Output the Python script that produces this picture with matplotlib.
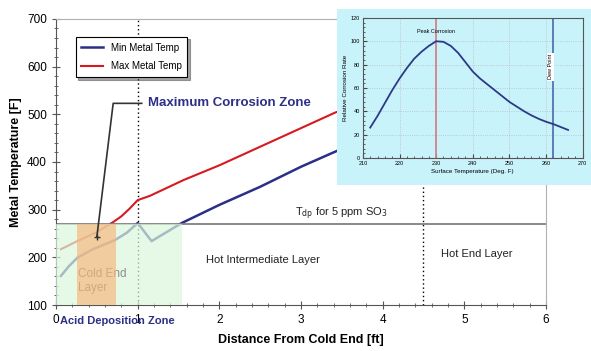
import matplotlib
matplotlib.use('Agg')
from matplotlib import pyplot as plt
from matplotlib.ticker import MultipleLocator
from matplotlib.patches import Rectangle

plt.rcParams['font.family'] = ['Liberation Sans', 'DejaVu Sans']

# main chart data
min_x = [0.06, 0.15, 0.26, 0.45, 0.72, 0.87, 1.0, 1.17, 1.54, 2.0, 2.5, 3.0, 3.41, 3.8]
min_y = [161, 180, 199, 217, 236, 252, 272, 234, 272, 310, 348, 390, 421, 450]
max_x = [0.06, 0.26, 0.5, 0.7, 0.8, 0.9, 1.0, 1.15, 1.56, 2.0, 2.5, 3.0, 3.41, 3.8]
max_y = [217, 234, 253, 274, 286, 302, 320, 329, 362, 393, 432, 471, 503, 530]
tdp = 270
zone_lines = [1.0, 4.5]

# inset data
surf_temp = [212, 214, 216, 218, 220, 222, 224, 226, 228, 230, 232, 234, 236, 238, 240,
             242, 244, 246, 248, 250, 252, 254, 256, 258, 260, 262, 264, 266]
corr_rate = [26, 36, 47, 58, 68, 77, 85, 91, 96, 100, 99.5, 96, 90, 82, 74,
             68, 63, 58, 53, 48, 44, 40, 36.5, 33.5, 31, 29, 26.5, 24]
peak_t = 230
dew_t = 262

fig = plt.figure(figsize=(5.91, 3.51), dpi=100)
ax = fig.add_axes([0.0948, 0.131, 0.829, 0.815])

blue = '#2b2f86'
red = '#d71920'
ax.plot(min_x, min_y, color=blue, lw=1.8, label='Min Metal Temp', zorder=2)
ax.plot(max_x, max_y, color=red, lw=1.5, label='Max Metal Temp', zorder=2)
ax.axhline(tdp, color='#808080', lw=1.3, zorder=2)
for zx in zone_lines:
    ax.axvline(zx, color='black', lw=1.0, ls=(0, (1, 2)), zorder=1)

# shaded zones, drawn over the lines
ax.add_patch(Rectangle((0, 100), 1.54, tdp - 100, facecolor='#dcf7dc', alpha=0.7, lw=0, zorder=3))
ax.add_patch(Rectangle((0.26, 100), 0.47, tdp - 100, facecolor='#f6b57a', alpha=0.65, lw=0, zorder=4))

ax.text(0.27, 150, 'Cold End\nLayer', fontsize=8.5, color='#8c8c8c', va='center', linespacing=1.25, zorder=3.5)
ax.text(1.84, 194, 'Hot Intermediate Layer', fontsize=8, color='#222222', va='center')
ax.text(4.72, 206, 'Hot End Layer', fontsize=8, color='#222222', va='center')
ax.text(2.93, 292, r'T$_{\rm dp}$ for 5 ppm SO$_3$', fontsize=8, color='#222222', va='center')
ax.text(0.05, 67, 'Acid Deposition Zone', fontsize=8, color=blue, fontweight='bold', va='center',
        clip_on=False)
ax.text(1.13, 523, 'Maximum Corrosion Zone', fontsize=9.5, color=blue, fontweight='bold', va='center')

# annotation pointer
ax.plot([0.5, 0.7, 1.05], [243, 523, 523], color='#333333', lw=1.2, zorder=5)
ax.plot([0.5], [243], marker='+', color='#333333', ms=4, zorder=5)

ax.set_xlim(0, 6)
ax.set_ylim(100, 700)
ax.xaxis.set_major_locator(MultipleLocator(1))
ax.xaxis.set_minor_locator(MultipleLocator(0.2))
ax.yaxis.set_major_locator(MultipleLocator(100))
ax.yaxis.set_minor_locator(MultipleLocator(20))
ax.tick_params(which='both', direction='inout', color='#555555', labelsize=8.5)
ax.tick_params(which='major', length=6)
ax.tick_params(which='minor', length=3)
for s in ['top', 'right']:
    ax.spines[s].set_color('#b0b0b0')
for s in ['left', 'bottom']:
    ax.spines[s].set_color('#555555')
ax.set_xlabel('Distance From Cold End [ft]', fontsize=9, fontweight='bold', labelpad=6)
ax.set_ylabel('Metal Temperature [F]', fontsize=9, fontweight='bold', labelpad=4)

leg = ax.legend(loc='upper left', bbox_to_anchor=(0.03, 0.955), fontsize=7, frameon=True,
                fancybox=False, shadow=True, handlelength=2.2, borderpad=0.6, labelspacing=0.9)
leg.get_frame().set_edgecolor('black')
leg.get_frame().set_linewidth(0.8)

# inset chart
fig.patches.append(Rectangle((0.570, 0.473), 0.43, 0.501, transform=fig.transFigure,
                             facecolor='#c9f3fa', edgecolor='none', zorder=5))
ins = fig.add_axes([0.614, 0.550, 0.372, 0.399], zorder=6)
ins.set_facecolor('#c9f3fa')
ins.plot(surf_temp, corr_rate, color='#2b3a86', lw=1.3, zorder=3)
ins.axvline(peak_t, color='#d9808a', lw=1.3, zorder=2)
ins.axvline(dew_t, color='#4a6aa8', lw=1.2, zorder=2)
ins.text(peak_t, 106, 'Peak Corrosion', fontsize=4, ha='center', va='bottom')
ins.text(dew_t - 0.8, 78, 'Dew Point', fontsize=4, rotation=90, ha='center', va='center',
         bbox=dict(facecolor='white', edgecolor='none', pad=0.8))
ins.set_xlim(210, 270)
ins.set_ylim(0, 120)
ins.xaxis.set_major_locator(MultipleLocator(10))
ins.xaxis.set_minor_locator(MultipleLocator(2))
ins.yaxis.set_major_locator(MultipleLocator(20))
ins.yaxis.set_minor_locator(MultipleLocator(4))
ins.tick_params(which='both', direction='in', labelsize=4, color='#444444', pad=2)
ins.tick_params(which='major', length=3)
ins.tick_params(which='minor', length=1.5)
ins.grid(True, which='major', color='#bbbbbb', ls=':', lw=0.6)
for s in ins.spines.values():
    s.set_color('#555555')
    s.set_linewidth(0.8)
ins.set_xlabel('Surface Temperature (Deg. F)', fontsize=4.5, labelpad=2)
ins.set_ylabel('Relative Corrosion Rate', fontsize=4.5, labelpad=2)

plt.savefig('out.png', dpi=100)
